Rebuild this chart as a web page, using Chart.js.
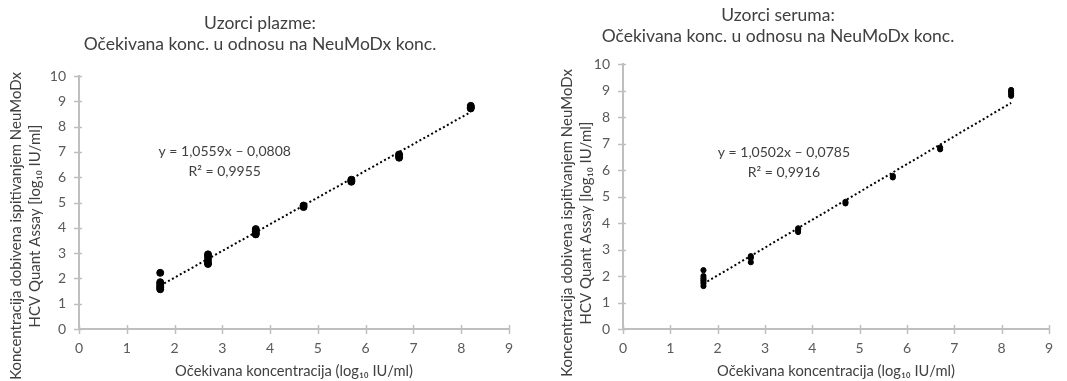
<!DOCTYPE html>
<html>
<head>
<meta charset="utf-8">
<script src="https://cdn.jsdelivr.net/npm/chart.js@4.4.1/dist/chart.umd.min.js"></script>
<style>
    html, body { margin: 0; padding: 0; background: #fff; }
    #wrap { position: relative; width: 1067px; height: 381px; }
    .box { position: absolute; top: 0; height: 381px; }
</style>
</head>
<body>
<div id="wrap">
    <div class="box" style="left:0;width:530px"><canvas id="plasma-chart" width="530" height="381"></canvas></div>
    <div class="box" style="left:530px;width:537px"><canvas id="serum-chart" width="537" height="381"></canvas></div>
</div>
<script>
// expected concentration levels (log10 IU/ml)
const expectedLevels = [1.7, 2.7, 3.7, 4.7, 5.7, 6.7, 8.2];

// measured values for each expected level
const plasmaMeasured = [
    [2.22, 1.85, 1.78, 1.7, 1.63, 1.57],
    [2.95, 2.87, 2.75, 2.62, 2.57],
    [3.95, 3.86, 3.79, 3.74],
    [4.88, 4.82],
    [5.9, 5.85, 5.82],
    [6.9, 6.83, 6.77],
    [8.82, 8.76, 8.72]
];
const serumMeasured = [
    [2.22, 2.0, 1.92, 1.86, 1.8, 1.72, 1.62],
    [2.75, 2.68, 2.52],
    [3.8, 3.74, 3.66],
    [4.8, 4.74],
    [5.78, 5.72],
    [6.85, 6.78],
    [9.02, 8.95, 8.88, 8.8]
];

// linear fits shown on the charts
const plasmaFit = [1.0559, -0.0808];
const serumFit = [1.0502, -0.0785];
const plasmaR2 = '0,9955';
const serumR2 = '0,9916';

const xTicks = [0, 1, 2, 3, 4, 5, 6, 7, 8, 9];
const yTicks = [0, 1, 2, 3, 4, 5, 6, 7, 8, 9, 10];

const FONT = 'Lato, Carlito, Calibri, sans-serif';
const axisColor = '#bfbfbf';
const tickColor = '#595959';
const textColor = '#404040';

function toPoints(levels, measured) {
    const pts = [];
    levels.forEach((lvl, i) => measured[i].forEach(v => pts.push({ x: lvl, y: v })));
    return pts;
}

function fitLine(levels, fit) {
    const a = levels[0], b = levels[levels.length - 1];
    return [{ x: a, y: fit[0] * a + fit[1] }, { x: b, y: fit[0] * b + fit[1] }];
}

function fmt(n) {
    return Math.abs(n).toFixed(4).replace('.', ',');
}

// crossing tick marks, title, y axis title and equation
const extras = {
    id: 'extras',
    afterDraw(chart, args, o) {
        const ctx = chart.ctx;
        const xs = chart.scales.x, ys = chart.scales.y;
        ctx.save();
        ctx.strokeStyle = axisColor;
        ctx.lineWidth = 1.5;
        ctx.beginPath();
        xs.ticks.forEach(t => {
            const px = Math.round(xs.getPixelForValue(t.value)) + 0.5;
            ctx.moveTo(px, ys.bottom - 4);
            ctx.lineTo(px, ys.bottom + 5);
        });
        ys.ticks.forEach(t => {
            const py = Math.round(ys.getPixelForValue(t.value)) + 0.5;
            ctx.moveTo(xs.left - 5, py);
            ctx.lineTo(xs.left + 3, py);
        });
        ctx.stroke();

        ctx.fillStyle = textColor;
        ctx.textAlign = 'center';
        ctx.textBaseline = 'middle';
        ctx.font = '17.5px ' + FONT;
        o.title.forEach((s, i) => ctx.fillText(s, o.titleX, o.titleY + i * 21));

        ctx.font = '14px ' + FONT;
        const ex = xs.getPixelForValue(o.eqAt[0]);
        const ey = ys.getPixelForValue(o.eqAt[1]);
        o.equation.forEach((s, i) => ctx.fillText(s, ex, ey + i * 20));

        ctx.font = '15px ' + FONT;
        o.yTitle.forEach((s, i) => {
            ctx.save();
            ctx.translate(o.yTitleX + i * 19, o.yTitleY);
            ctx.rotate(-Math.PI / 2);
            ctx.fillText(s, 0, 0);
            ctx.restore();
        });
        ctx.restore();
    }
};

function makeChart(el, measured, fit, r2, opts) {
    return new Chart(el, {
        type: 'scatter',
        data: {
            datasets: [{
                data: toPoints(expectedLevels, measured),
                backgroundColor: '#000',
                borderColor: '#000',
                pointRadius: opts.radius,
                order: 0
            }, {
                type: 'line',
                data: fitLine(expectedLevels, fit),
                borderColor: '#000',
                borderWidth: 2,
                borderDash: [2, 2.5],
                pointRadius: 0,
                fill: false,
                order: 1
            }]
        },
        options: {
            responsive: false,
            animation: false,
            layout: { padding: { top: opts.top, right: opts.right, left: 0, bottom: 0 } },
            plugins: {
                legend: { display: false },
                tooltip: { enabled: false },
                extras: {
                    title: opts.title,
                    titleX: opts.titleX,
                    titleY: opts.titleY,
                    yTitle: ['Koncentracija dobivena ispitivanjem NeuMoDx', 'HCV Quant Assay [log\u2081\u2080 IU/ml]'],
                    yTitleX: opts.yTitleX,
                    yTitleY: opts.yTitleY,
                    equation: ['y = ' + fmt(fit[0]) + 'x \u2013 ' + fmt(fit[1]), 'R\u00b2 = ' + r2],
                    eqAt: opts.eqAt
                }
            },
            scales: {
                x: {
                    type: 'linear',
                    min: 0,
                    max: 9,
                    afterBuildTicks: s => { s.ticks = xTicks.map(v => ({ value: v })); },
                    afterFit: s => { s.height = 52; },
                    ticks: { color: tickColor, font: { family: FONT, size: 14 }, padding: 11 },
                    grid: { display: true, drawOnChartArea: false, drawTicks: false },
                    border: { color: axisColor, width: 2 },
                    title: {
                        display: true,
                        text: 'Očekivana koncentracija (log\u2081\u2080 IU/ml)',
                        color: textColor,
                        font: { family: FONT, size: 14.7 },
                        padding: { top: 0, bottom: 1 }
                    }
                },
                y: {
                    type: 'linear',
                    min: 0,
                    max: 10,
                    afterBuildTicks: s => { s.ticks = yTicks.map(v => ({ value: v })); },
                    afterFit: s => { s.width = opts.yWidth; },
                    ticks: { color: tickColor, font: { family: FONT, size: 14 }, padding: 13 },
                    grid: { display: true, drawOnChartArea: false, drawTicks: false },
                    border: { color: axisColor, width: 2 }
                }
            }
        },
        plugins: [extras]
    });
}

makeChart(document.getElementById('plasma-chart'), plasmaMeasured, plasmaFit, plasmaR2, {
    radius: 3.5,
    top: 76,
    right: 21,
    yWidth: 79,
    title: ['Uzorci plazme:', 'Očekivana konc. u odnosu na NeuMoDx konc.'],
    titleX: 260,
    titleY: 23,
    yTitleX: 16,
    yTitleY: 226,
    eqAt: [3.05, 7.0]
});

makeChart(document.getElementById('serum-chart'), serumMeasured, serumFit, serumR2, {
    radius: 2.6,
    top: 64,
    right: 18,
    yWidth: 93,
    title: ['Uzorci seruma:', 'Očekivana konc. u odnosu na NeuMoDx konc.'],
    titleX: 248,
    titleY: 15,
    yTitleX: 37,
    yTitleY: 223,
    eqAt: [3.4, 6.65]
});
</script>
</body>
</html>
